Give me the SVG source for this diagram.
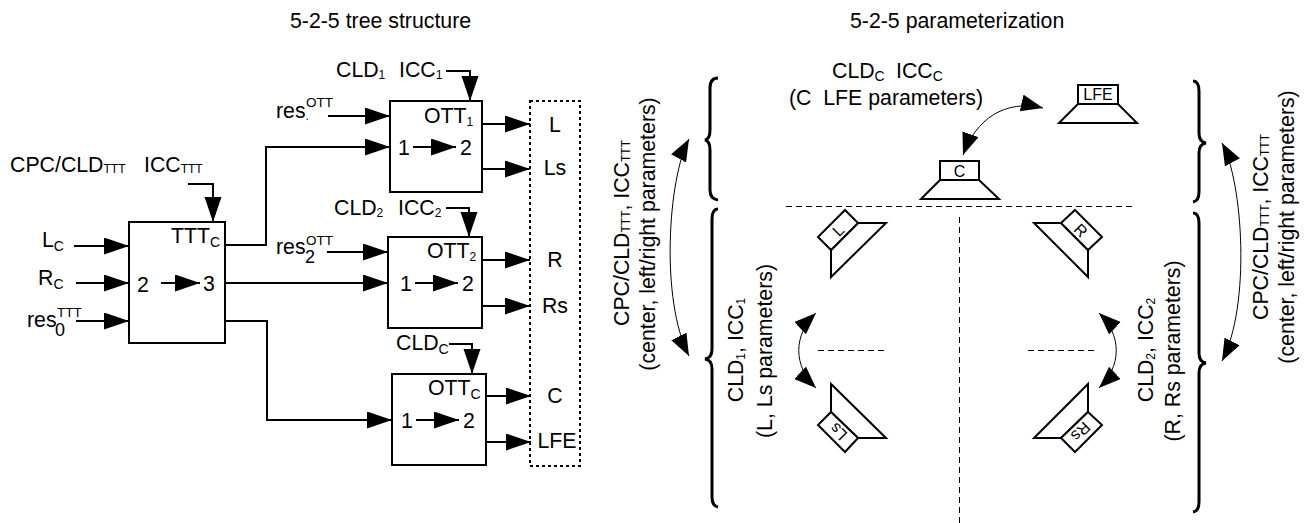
<svg xmlns="http://www.w3.org/2000/svg" width="1315" height="523" viewBox="0 0 1315 523">
<style>
text{font-family:"Liberation Sans",Arial,sans-serif;font-size:21.3px;fill:#000;white-space:pre}
.s{font-size:12px}
.c0{font-size:14px}
.sup{font-size:13.5px}
.big{font-size:18px}
.sp{font-size:16px}
.m{text-anchor:middle}
.box{fill:#fff;stroke:#000;stroke-width:2}
.a{fill:none;stroke:#000;stroke-width:2;marker-end:url(#h)}
.c{fill:none;stroke:#000;stroke-width:1;marker-end:url(#g);marker-start:url(#g)}
.d{fill:none;stroke:#000;stroke-width:1;stroke-dasharray:6 4}
.b{fill:none;stroke:#000;stroke-width:3}
.spk{fill:#fff;stroke:#000;stroke-width:2}
</style>
<defs>
<marker id="h" markerUnits="userSpaceOnUse" markerWidth="26" markerHeight="18" refX="25" refY="8.5" orient="auto"><path d="M0 0L25 8.500L0 17z"/></marker>
<marker id="g" markerUnits="userSpaceOnUse" markerWidth="24" markerHeight="20" refX="22" refY="8.500" orient="auto-start-reverse"><path d="M0 0L22 8.500L0 17z"/></marker>
</defs>
<text x="290" y="28">5-2-5 tree structure</text>
<text x="850" y="28">5-2-5 parameterization</text>
<g id="connectors">
<path class="a" d="M74 246H129"/>
<path class="a" d="M76 283H129"/>
<path class="a" d="M76 321H129"/>
<path class="a" d="M225 245H266V147H390"/>
<path class="a" d="M225 283H388"/>
<path class="a" d="M225 321H267V420H392"/>
<path class="a" d="M188 184H213V222"/>
<path class="a" d="M446 71H470V101"/>
<path class="a" d="M446 208H469V237"/>
<path class="a" d="M449 344H472V374"/>
<path class="a" d="M328 116H390"/>
<path class="a" d="M327 252H388"/>
<path class="a" d="M482 124H530"/>
<path class="a" d="M482 169H530"/>
<path class="a" d="M482 260H530"/>
<path class="a" d="M482 306H530"/>
<path class="a" d="M486 396H531"/>
<path class="a" d="M486 442H531"/>
<path class="c" d="M1043 108C1005 99 976 119 963 155"/>
<path class="c" d="M689 139C668 178 660 300 689 356"/>
<path class="c" d="M1222 143C1243 182 1251 305 1222 361"/>
<path class="c" d="M816 313C793 335 793 366 816 388"/>
<path class="c" d="M1099 313C1122 335 1122 366 1099 388"/>
</g>
<g id="TTT"><rect class="box" x="129" y="222" width="96" height="121"/>
<text x="171" y="243">TTT<tspan class="c0" dy="4">C</tspan></text>
<text x="137" y="292">2</text><text x="203" y="291">3</text>
<path class="a" d="M161 283H200"/></g>
<g id="OTT1"><rect class="box" x="390" y="101" width="92" height="91"/>
<text x="424" y="123">OTT<tspan class="s" dy="3">1</tspan></text>
<text x="398" y="155">1</text><text x="460" y="155">2</text>
<path class="a" d="M413 147H456"/></g>
<g id="OTT2"><rect class="box" x="388" y="237" width="94" height="91"/>
<text x="427" y="258">OTT<tspan class="s" dy="3">2</tspan></text>
<text x="400" y="291">1</text><text x="462" y="291">2</text>
<path class="a" d="M415 283H458"/></g>
<g id="OTT0"><rect class="box" x="392" y="374" width="94" height="91"/>
<text x="428" y="395">OTT<tspan class="c0" dy="4">C</tspan></text>
<text x="401" y="428">1</text><text x="463" y="428">2</text>
<path class="a" d="M416 420H459"/></g>
<g id="output"><rect x="530" y="101" width="50" height="365" fill="none" stroke="#000" stroke-width="2" stroke-dasharray="3 3"/>
<text class="m" x="555" y="132">L</text><text class="m" x="555" y="175">Ls</text>
<text class="m" x="555" y="267">R</text><text class="m" x="555" y="313">Rs</text>
<text class="m" x="555" y="403">C</text><text class="m" x="557" y="448">LFE</text></g>
<g id="left-labels">
<text x="42" y="247">L<tspan class="c0" dy="4">C</tspan></text>
<text x="38" y="285">R<tspan class="c0" dy="4">C</tspan></text>
<text x="27" y="327">res</text><text class="sup" x="57" y="317">TTT</text><text class="big" x="55" y="336">0</text>
<text x="10" y="172">CPC/CLD<tspan class="s" dy="1">TTT</tspan></text><text x="144" y="172">ICC<tspan class="s" dy="1">TTT</tspan></text>
<text x="336" y="77">CLD<tspan class="s" dy="2">1</tspan></text><text x="399" y="77">ICC<tspan class="s" dy="2">1</tspan></text>
<text x="334" y="215">CLD<tspan class="s" dy="2">2</tspan></text><text x="398" y="215">ICC<tspan class="s" dy="2">2</tspan></text>
<text x="396" y="350">CLD<tspan class="c0" dy="4">C</tspan></text>
<text x="276" y="118">res<tspan class="s" dy="2">.</tspan></text><text class="sup" x="306" y="107">OTT</text>
<text x="276" y="254">res</text><text class="sup" x="306" y="245">OTT</text><text class="big" x="305" y="263">2</text>
</g>
<g id="dashes">
<path class="d" d="M786 206.500H1133"/>
<path class="d" d="M959.500 217V523"/>
<path class="d" d="M818 350.500H884"/>
<path class="d" d="M1028 350.500H1097"/>
</g>
<g id="braces">
<path class="b" d="M718 78Q710 78 710 88V130Q710 139 705 140Q710 141 710 150V190Q710 199 718 200"/>
<path class="b" d="M718 209Q712 209 712 219V349Q712 358 705 359Q712 360 712 369V497Q712 506 718 507"/>
<path class="b" d="M1193 81Q1199 81 1199 91V133Q1199 142 1206 143Q1199 144 1199 153V192Q1199 201 1193 202"/>
<path class="b" d="M1193 213Q1199 213 1199 223V353Q1199 362 1206 363Q1199 364 1199 373V502Q1199 511 1193 512"/>
</g>
<g id="spk-C"><path class="spk" d="M940 180L921 199H999L979 180z"/><rect class="spk" x="940" y="161" width="39" height="19"/><text class="m sp" x="959.500" y="177">C</text></g>
<g id="spk-LFE"><path class="spk" d="M1078 104L1059 123H1137L1118 104z"/><rect class="spk" x="1078" y="85" width="40" height="19"/><text class="m sp" x="1098" y="100">LFE</text></g>
<g id="spk-L"><path class="spk" d="M858 223H886L831 277V250z"/><path class="spk" d="M845 210L858 223L831 250L818 237z"/><text class="m sp" transform="translate(838 230) rotate(-45) translate(0 6)">L</text></g>
<g id="spk-R"><path class="spk" d="M1061 223H1034L1088 277V250z"/><path class="spk" d="M1075 210L1102 237L1088 250L1061 223z"/><text class="m sp" transform="translate(1081 230) rotate(45) translate(0 6)">R</text></g>
<g id="spk-Ls"><path class="spk" d="M831 412V384L886 438H858z"/><path class="spk" d="M831 412L858 438L845 452L818 425z"/><text class="m sp" transform="translate(838 432) rotate(225) translate(0 6)">Ls</text></g>
<g id="spk-Rs"><path class="spk" d="M1088 412V384L1034 438H1061z"/><path class="spk" d="M1088 412L1102 425L1075 452L1061 438z"/><text class="m sp" transform="translate(1081 432) rotate(135) translate(0 6)">Rs</text></g>
<g id="param-labels">
<text x="832" y="78">CLD<tspan class="c0" dy="3">C</tspan></text><text x="896" y="78">ICC<tspan class="c0" dy="3">C</tspan></text>
<text class="m" x="886" y="105">(C  LFE parameters)</text>
<text class="m" transform="translate(629 233) rotate(-90)">CPC/CLD<tspan class="s" dy="1">TTT</tspan><tspan dy="-1">, ICC</tspan><tspan class="s" dy="1">TTT</tspan></text>
<text class="m" transform="translate(655 234) rotate(-90)">(center, left/right parameters)</text>
<text class="m" transform="translate(1268 227) rotate(-90)">CPC/CLD<tspan class="s" dy="1">TTT</tspan><tspan dy="-1">, ICC</tspan><tspan class="s" dy="1">TTT</tspan></text>
<text class="m" transform="translate(1294 227) rotate(-90)">(center, left/right parameters)</text>
<text class="m" transform="translate(743 350) rotate(-90)">CLD<tspan class="s" dy="2">1</tspan><tspan dy="-2">, ICC</tspan><tspan class="s" dy="2">1</tspan></text>
<text class="m" transform="translate(772 351) rotate(-90)">(L, Ls parameters)</text>
<text class="m" transform="translate(1153 350) rotate(-90)">CLD<tspan class="s" dy="2">2</tspan><tspan dy="-2">, ICC</tspan><tspan class="s" dy="2">2</tspan></text>
<text class="m" transform="translate(1180 351) rotate(-90)">(R, Rs parameters)</text>
</g>
</svg>
